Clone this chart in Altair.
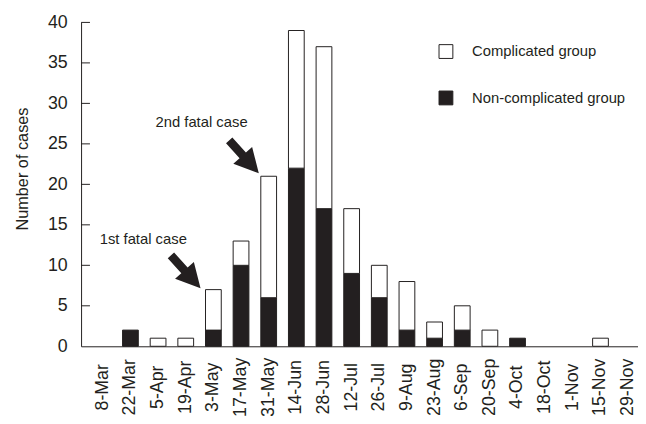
import altair as alt
import pandas as pd

dates = ["8-Mar", "22-Mar", "5-Apr", "19-Apr", "3-May", "17-May", "31-May", "14-Jun",
         "28-Jun", "12-Jul", "26-Jul", "9-Aug", "23-Aug", "6-Sep", "20-Sep", "4-Oct",
         "18-Oct", "1-Nov", "15-Nov", "29-Nov"]
non_complicated = [0, 2, 0, 0, 2, 10, 6, 22, 17, 9, 6, 2, 1, 2, 0, 1, 0, 0, 0, 0]
complicated = [0, 0, 1, 1, 5, 3, 15, 17, 20, 8, 4, 6, 2, 3, 2, 0, 0, 0, 1, 0]
groups = ["Complicated group", "Non-complicated group"]
y_ticks = [5, 10, 15, 20, 25, 30, 35, 40]

# annotations: (label, date, value, pixel offset) and arrows (date, value, pixel offset)
notes = [("1st fatal case", "3-May", 12.6, -71), ("2nd fatal case", "31-May", 27.1, -68)]
arrows = [("3-May", 9.2, -28), ("31-May", 23.4, -25)]

INK = "#231f20"
FONT = "Liberation Sans, Arial, Helvetica, sans-serif"

rows = []
for d, nc, c in zip(dates, non_complicated, complicated):
    if nc > 0:
        rows.append({"date": d, "group": groups[1], "value": nc, "ord": 0})
    if c > 0:
        rows.append({"date": d, "group": groups[0], "value": c, "ord": 1})
df = pd.DataFrame(rows)

X = alt.X("date:N", sort=dates, title=None,
          scale=alt.Scale(domain=dates, paddingInner=0.43, paddingOuter=0.5),
          axis=alt.Axis(labelAngle=270, labelAlign="center", labelBaseline="middle",
                        labelPadding=41, ticks=False, tickSize=0, labelFontSize=18,
                        labelFont=FONT, labelColor=INK, domainColor=INK, domainWidth=1,
                        grid=False))
Y_AXIS = alt.Axis(values=[0, 5, 10, 15, 20, 25, 30, 35, 40], ticks=False, tickSize=0,
                  labelPadding=14, labelFontSize=18, labelFont=FONT, labelColor=INK,
                  domainColor=INK, domainWidth=1, grid=False,
                  title="Number of cases", titleFont=FONT, titleFontSize=16.5,
                  titleFontWeight="normal", titleColor=INK, titleAngle=270,
                  titleAlign="center", titleBaseline="alphabetic", titleX=-54, titleY=148)
YSCALE = alt.Scale(domain=[0, 40], nice=False)

bars = alt.Chart(df).mark_bar(stroke=INK, strokeWidth=1).encode(
    x=X,
    y=alt.Y("value:Q", stack="zero", scale=YSCALE, axis=Y_AXIS),
    color=alt.Color("group:N",
                    scale=alt.Scale(domain=groups, range=["white", INK]),
                    legend=alt.Legend(orient="none", legendX=362, legendY=22, title=None,
                                      symbolType="square", symbolSize=196,
                                      symbolStrokeColor=INK, symbolStrokeWidth=1,
                                      symbolOpacity=1, labelFontSize=15, labelFont=FONT,
                                      labelColor=INK, labelOffset=19, rowPadding=28,
                                      padding=0)),
    order=alt.Order("ord:Q"),
)

tick_df = pd.DataFrame({"v": y_ticks})
ticks = alt.Chart(tick_df).mark_rule(color=INK, strokeWidth=1).encode(
    y=alt.Y("v:Q", scale=YSCALE, axis=Y_AXIS),
    x=alt.value(0), x2=alt.value(9),
)

ARROW = "M-1.4,-0.27L-0.12,-0.27L-0.12,-0.8L1.4,0L-0.12,0.8L-0.12,0.27L-1.4,0.27Z"

layers = [bars, ticks]
for label, d, v, dx in notes:
    ndf = pd.DataFrame({"date": [d], "v": [v], "label": [label]})
    layers.append(alt.Chart(ndf).mark_text(font=FONT, fontSize=15, color=INK, align="center",
                                           baseline="alphabetic", xOffset=dx).encode(
        x=X, y=alt.Y("v:Q", scale=YSCALE, axis=Y_AXIS), text="label:N"))
for d, v, dx in arrows:
    adf = pd.DataFrame({"date": [d], "v": [v]})
    layers.append(alt.Chart(adf).mark_point(shape=ARROW, size=1024, angle=48, filled=True,
                                            color=INK, opacity=1, strokeWidth=0,
                                            xOffset=dx).encode(
        x=X, y=alt.Y("v:Q", scale=YSCALE, axis=Y_AXIS)))

chart = alt.layer(*layers).properties(
    width=576, height=328,
    autosize=alt.AutoSizeParams(type="none"),
    padding={"left": 74, "top": 12, "right": -12, "bottom": 68},
    background="white",
).configure_view(stroke=None)

chart.save("out.html", embed_options={"renderer": "svg", "actions": False})
